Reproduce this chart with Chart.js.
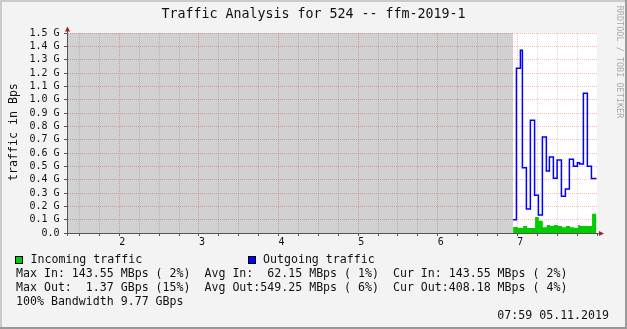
<!DOCTYPE html>
<html>
<head>
<meta charset="utf-8">
<script src="https://cdn.jsdelivr.net/npm/chart.js@4.4.0/dist/chart.umd.min.js"></script>
<style>
  body { margin: 0; overflow: hidden; background: #f3f3f3; }
  #wrap { position: relative; width: 627px; height: 329px; font-family: "DejaVu Sans Mono", monospace; color: #111; overflow: hidden; }
  #wrap canvas { position: absolute; left: 0; top: 0; }
  .t { position: absolute; white-space: pre; font-size: 11.6px; line-height: 14px; }
  .box { position: absolute; width: 8px; height: 8px; border: 1px solid #000; box-sizing: border-box; }
</style>
</head>
<body>
<div id="wrap">
  <canvas id="rrd" width="627" height="329"></canvas>
  <div class="t" style="left:0;width:627px;text-align:center;top:5.5px;font-size:13.3px;line-height:16px;">Traffic Analysis for 524 -- ffm-2019-1</div>
  <div class="t" style="left:-87.5px;width:200px;text-align:center;top:124.5px;transform:rotate(-90deg);">traffic in Bps</div>
  <div class="t" style="left:520px;width:200px;text-align:center;top:56.5px;font-size:8.5px;line-height:10px;color:#aaa;transform:rotate(90deg);">RRDTOOL / TOBI OETIKER</div>
  <div class="box" style="left:15px;top:255.5px;background:#00cc00;"></div>
  <div class="t" style="left:30.5px;top:252.3px;">Incoming traffic</div>
  <div class="box" style="left:248px;top:255.5px;background:#0000ff;"></div>
  <div class="t" style="left:263px;top:252.3px;">Outgoing traffic</div>
  <div class="t" style="left:16px;top:266.3px;">Max In: 143.55 MBps ( 2%)  Avg In:  62.15 MBps ( 1%)  Cur In: 143.55 MBps ( 2%)</div>
  <div class="t" style="left:16px;top:280.3px;">Max Out:  1.37 GBps (15%)  Avg Out:549.25 MBps ( 6%)  Cur Out:408.18 MBps ( 4%)</div>
  <div class="t" style="left:16px;top:294px;">100% Bandwidth 9.77 GBps</div>
  <div class="t" style="right:18px;top:308px;">07:59 05.11.2019</div>
</div>
<script>
// x in days of the graph window, y in G(Bps)
const xRange = [1.343, 8];
const xTickLabels = ['2', '3', '4', '5', '6', '7'];
const yTickLabels = ['0.0', '0.1 G', '0.2 G', '0.3 G', '0.4 G', '0.5 G', '0.6 G', '0.7 G',
  '0.8 G', '0.9 G', '1.0 G', '1.1 G', '1.2 G', '1.3 G', '1.4 G', '1.5 G'];

// no data before this
const unknownTimes = [1.343, 6.946];
const unknownValues = [1.5, 1.5];

const inTimes = [6.946, 7.005, 7.072, 7.122, 7.222, 7.269, 7.319, 7.369, 7.411, 7.461,
  7.511, 7.562, 7.612, 7.662, 7.712, 7.763, 7.788, 7.938, 7.993];
const inValues = [0.045, 0.038, 0.053, 0.038, 0.12, 0.092, 0.043, 0.06, 0.053, 0.06,
  0.053, 0.043, 0.053, 0.043, 0.038, 0.06, 0.053, 0.1436, 0.1436];

const outTimes = [6.946, 6.988, 7.038, 7.063, 7.113, 7.163, 7.216, 7.264, 7.314, 7.364,
  7.402, 7.452, 7.499, 7.553, 7.603, 7.653, 7.704, 7.754, 7.781, 7.829, 7.879, 7.930, 7.993];
const outValues = [0.10, 1.235, 1.37, 0.49, 0.18, 0.845, 0.283, 0.135, 0.72, 0.465,
  0.57, 0.41, 0.548, 0.275, 0.33, 0.553, 0.50, 0.527, 0.517, 1.048, 0.50, 0.408, 0.408];

const pts = (xs, ys) => xs.map((x, i) => ({ x: x, y: ys[i] }));

const MGRID = 'rgba(255,0,0,0.27)';
const GRID = 'rgba(120,120,120,0.28)';
const AXIS = '#555';
const ARROW = '#aa2020';
const tickFont = { family: 'DejaVu Sans Mono', size: 10 };

const frame = {
  id: 'frame',
  beforeDraw(chart) {
    const { ctx, chartArea: a, width, height } = chart;
    ctx.save();
    ctx.fillStyle = '#f3f3f3';
    ctx.fillRect(0, 0, width, height);
    ctx.fillStyle = '#ffffff';
    ctx.fillRect(a.left, a.top, a.right - a.left, a.bottom - a.top);
    ctx.restore();
  },
  afterDraw(chart) {
    const { ctx, chartArea: a, width, height } = chart;
    const yb = Math.round(a.bottom) + 0.5, xl = Math.round(a.left) + 0.5;
    ctx.save();
    ctx.strokeStyle = AXIS;
    ctx.lineWidth = 1;
    ctx.beginPath();
    ctx.moveTo(a.left - 3, yb); ctx.lineTo(a.right + 3, yb);
    ctx.moveTo(xl, a.bottom + 3); ctx.lineTo(xl, a.top - 2);
    ctx.stroke();
    ctx.fillStyle = ARROW;
    ctx.beginPath();
    ctx.moveTo(a.right + 2, yb - 2.5); ctx.lineTo(a.right + 7, yb); ctx.lineTo(a.right + 2, yb + 2.5);
    ctx.closePath(); ctx.fill();
    ctx.beginPath();
    ctx.moveTo(xl - 2.5, a.top - 1.5); ctx.lineTo(xl, a.top - 6.5); ctx.lineTo(xl + 2.5, a.top - 1.5);
    ctx.closePath(); ctx.fill();
    // 3d frame
    ctx.fillStyle = '#cbcbcb';
    ctx.fillRect(0, 0, width, 2);
    ctx.fillRect(0, 0, 2, height);
    ctx.fillStyle = '#999999';
    ctx.fillRect(0, height - 2, width, 2);
    ctx.fillRect(width - 2, 0, 2, height);
    ctx.restore();
  }
};

new Chart(document.getElementById('rrd'), {
  type: 'line',
  data: {
    datasets: [
      {
        label: 'Outgoing traffic',
        data: pts(outTimes, outValues),
        stepped: true,
        fill: false,
        borderColor: '#0000ff',
        borderWidth: 1.5,
        pointRadius: 0,
        order: 1
      },
      {
        label: 'Incoming traffic',
        data: pts(inTimes, inValues),
        stepped: true,
        fill: 'origin',
        backgroundColor: '#00cc00',
        borderWidth: 0,
        pointRadius: 0,
        order: 2
      },
      {
        label: 'unknown',
        data: pts(unknownTimes, unknownValues),
        fill: 'origin',
        backgroundColor: 'rgba(0,0,0,0.18)',
        borderWidth: 0,
        pointRadius: 0,
        order: 3
      }
    ]
  },
  options: {
    responsive: false,
    animation: false,
    layout: { padding: { left: 0, top: 33, right: 30, bottom: 0 } },
    plugins: { legend: { display: false }, tooltip: { enabled: false } },
    scales: {
      x: {
        type: 'linear',
        min: xRange[0],
        max: xRange[1],
        afterFit: s => { s.height = 96; },
        ticks: {
          stepSize: 0.25,
          includeBounds: false,
          autoSkip: false,
          maxRotation: 0,
          padding: 0,
          labelOffset: 3,
          color: '#111',
          font: tickFont,
          callback: v => {
            const s = String(Math.round(v));
            return Math.abs(v - Math.round(v)) < 1e-6 && xTickLabels.includes(s) ? s : '';
          }
        },
        grid: {
          color: c => {
            const v = c.tick ? c.tick.value : 0;
            if (v >= xRange[1] - 1e-6) return 'rgba(0,0,0,0)';
            return Math.abs(v - Math.round(v)) < 1e-6 ? MGRID : GRID;
          },
          lineWidth: 1,
          tickLength: 3,
          tickColor: AXIS
        },
        border: { display: true, color: AXIS, dash: [1, 1] }
      },
      y: {
        min: 0,
        max: 1.5,
        afterFit: s => { s.width = 67; },
        ticks: {
          stepSize: 0.1,
          autoSkip: false,
          padding: 4.5,
          color: '#111',
          font: tickFont,
          callback: v => yTickLabels[Math.round(v * 10)] || ''
        },
        grid: {
          color: c => (c.tick && c.tick.value > 0.001 ? MGRID : 'rgba(0,0,0,0)'),
          lineWidth: 1,
          tickLength: 3,
          tickColor: AXIS
        },
        border: { display: true, color: AXIS, dash: [1, 1] }
      }
    }
  },
  plugins: [frame]
});
</script>
</body>
</html>
